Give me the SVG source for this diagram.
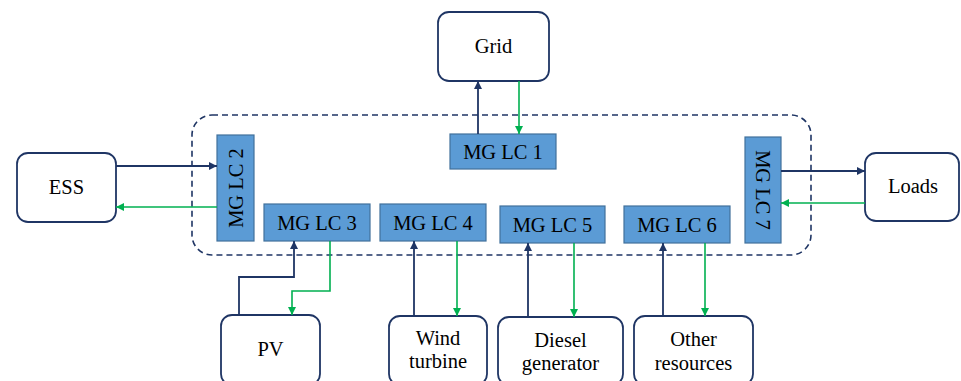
<svg xmlns="http://www.w3.org/2000/svg" width="961" height="381" viewBox="0 0 961 381">
  <defs>
    <marker id="arrNavy" viewBox="0 0 10 10" refX="10" refY="5" markerWidth="8" markerHeight="8" markerUnits="userSpaceOnUse" orient="auto">
      <path d="M0,0 L10,5 L0,10 Z" fill="#1F3564"/>
    </marker>
    <marker id="arrGreen" viewBox="0 0 10 10" refX="10" refY="5" markerWidth="8" markerHeight="8" markerUnits="userSpaceOnUse" orient="auto">
      <path d="M0,0 L10,5 L0,10 Z" fill="#00B050"/>
    </marker>
    <style>
      .ext { fill: #ffffff; stroke: #1F3564; stroke-width: 1.8; }
      .lc { fill: #5B9BD5; stroke: #41719C; stroke-width: 1.2; }
      .txt { font-family: "Liberation Serif", "Times New Roman", serif; font-size: 20.5px; fill: #000000; text-anchor: middle; }
      .navy { fill: none; stroke: #1F3564; stroke-width: 1.8; marker-end: url(#arrNavy); }
      .green { fill: none; stroke: #00B050; stroke-width: 1.6; marker-end: url(#arrGreen); }
      .boundary { fill: none; stroke: #1F3564; stroke-width: 1.6; stroke-dasharray: 6 4; }
    </style>
  </defs>

  <!-- microgrid boundary -->
  <rect class="boundary" x="192" y="115" width="619" height="140" rx="20" ry="20"/>

  <!-- external units -->
  <g id="grid">
    <rect class="ext" x="438" y="12" width="111" height="69" rx="11"/>
    <text class="txt" x="493.5" y="53">Grid</text>
  </g>
  <g id="ess">
    <rect class="ext" x="17" y="153" width="99" height="69" rx="11"/>
    <text class="txt" x="66.5" y="194">ESS</text>
  </g>
  <g id="loads">
    <rect class="ext" x="865" y="153" width="94" height="68" rx="11"/>
    <text class="txt" x="913" y="193">Loads</text>
  </g>
  <g id="pv">
    <rect class="ext" x="221" y="315" width="99" height="70" rx="11"/>
    <text class="txt" x="270.5" y="356">PV</text>
  </g>
  <g id="wind">
    <rect class="ext" x="389" y="316" width="98" height="69" rx="11"/>
    <text class="txt" x="438" y="345">Wind</text>
    <text class="txt" x="438" y="368">turbine</text>
  </g>
  <g id="diesel">
    <rect class="ext" x="498" y="317" width="125" height="68" rx="11"/>
    <text class="txt" x="560.5" y="347">Diesel</text>
    <text class="txt" x="560.5" y="370">generator</text>
  </g>
  <g id="other">
    <rect class="ext" x="634" y="316" width="119" height="69" rx="11"/>
    <text class="txt" x="693.5" y="346">Other</text>
    <text class="txt" x="693.5" y="370">resources</text>
  </g>

  <!-- local controllers -->
  <g id="lc1">
    <rect class="lc" x="450" y="134" width="106" height="35"/>
    <text class="txt" x="503" y="159">MG LC 1</text>
  </g>
  <g id="lc2">
    <rect class="lc" x="217" y="135" width="37" height="106"/>
    <text class="txt" transform="translate(243,188) rotate(-90)" x="0" y="0">MG LC 2</text>
  </g>
  <g id="lc3">
    <rect class="lc" x="264" y="204" width="106" height="37"/>
    <text class="txt" x="317" y="229.5">MG LC 3</text>
  </g>
  <g id="lc4">
    <rect class="lc" x="380" y="204" width="106" height="37"/>
    <text class="txt" x="433" y="229.5">MG LC 4</text>
  </g>
  <g id="lc5">
    <rect class="lc" x="500" y="206" width="105" height="37"/>
    <text class="txt" x="552.5" y="231.5">MG LC 5</text>
  </g>
  <g id="lc6">
    <rect class="lc" x="624" y="206" width="106" height="37"/>
    <text class="txt" x="677" y="231.5">MG LC 6</text>
  </g>
  <g id="lc7">
    <rect class="lc" x="745" y="137" width="36" height="106"/>
    <text class="txt" transform="translate(756,190) rotate(90)" x="0" y="0">MG LC 7</text>
  </g>

  <!-- connectors -->
  <g id="connectors">
    <path class="navy" d="M478,134 V81"/>
    <path class="green" d="M519,81 V134"/>
    <path class="navy" d="M116,166 H217"/>
    <path class="green" d="M217,207 H116"/>
    <path class="navy" d="M781,171 H865"/>
    <path class="green" d="M865,203 H781"/>
    <path class="navy" d="M239,315 V277 H294 V241"/>
    <path class="green" d="M330,241 V291 H292 V315"/>
    <path class="navy" d="M414,316 V241"/>
    <path class="green" d="M457,241 V316"/>
    <path class="navy" d="M528,317 V243"/>
    <path class="green" d="M574,243 V317"/>
    <path class="navy" d="M663,316 V243"/>
    <path class="green" d="M705,243 V316"/>
  </g>
</svg>
